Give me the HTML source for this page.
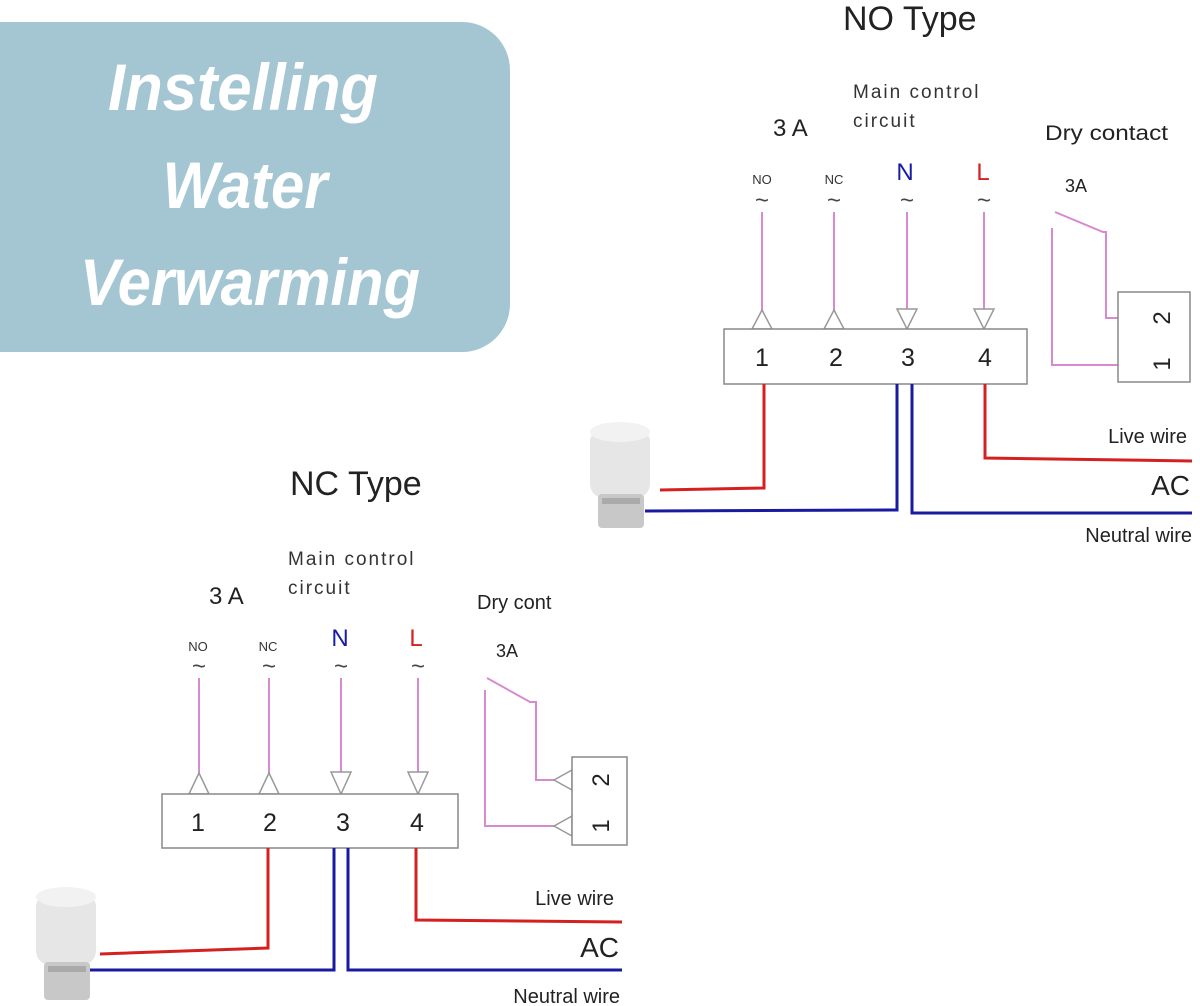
<!DOCTYPE html>
<html><head><meta charset="utf-8"><style>
html,body{margin:0;padding:0;background:#fff;}
svg{display:block}
text{font-family:"Liberation Sans",sans-serif;}
</style></head><body>
<svg width="1200" height="1006" viewBox="0 0 1200 1006" xmlns="http://www.w3.org/2000/svg">
<rect x="0" y="0" width="1200" height="1006" fill="#fff"/>
<path d="M0 22 H462 A48 48 0 0 1 510 70 V304 A48 48 0 0 1 462 352 H0 Z" fill="#a4c6d2"/>
<g fill="#fff" font-weight="bold" font-style="italic" font-size="66" text-anchor="middle">
<text x="243" y="110" textLength="270" lengthAdjust="spacingAndGlyphs">Instelling</text>
<text x="245" y="208" textLength="165" lengthAdjust="spacingAndGlyphs">Water</text>
<text x="250" y="305" textLength="340" lengthAdjust="spacingAndGlyphs">Verwarming</text>
</g>

<text x="843" y="30" font-size="34" fill="#222">NO Type</text>
<text x="853" y="98" font-size="19" fill="#333" letter-spacing="2">Main control</text>
<text x="853" y="127" font-size="19" fill="#333" letter-spacing="2">circuit</text>
<text x="773" y="136" font-size="24" fill="#222">3 A</text>
<text x="1045" y="140" font-size="21" fill="#222" textLength="123" lengthAdjust="spacingAndGlyphs">Dry contact</text>
<text x="1065" y="192" font-size="18" fill="#222">3A</text>
<g font-size="13" fill="#333" text-anchor="middle"><text x="762" y="184">NO</text><text x="834" y="184">NC</text></g>
<text x="905" y="180" font-size="24" fill="#1a1aa8" text-anchor="middle">N</text>
<text x="983" y="180" font-size="24" fill="#d42020" text-anchor="middle">L</text>
<g font-size="24" fill="#444" text-anchor="middle"><text x="762" y="208">~</text><text x="834" y="208">~</text><text x="907" y="208">~</text><text x="984" y="208">~</text></g>
<g stroke="#d88ad0" stroke-width="2" fill="none">
<line x1="762" y1="212" x2="762" y2="312"/><line x1="834" y1="212" x2="834" y2="312"/>
<line x1="907" y1="212" x2="907" y2="309"/><line x1="984" y1="212" x2="984" y2="309"/>
<polyline points="1052,228 1052,365 1120,365"/>
<polyline points="1055,212 1103,232 1106,232 1106,318 1120,318"/>
</g>
<g stroke="#999" stroke-width="1.5" fill="#fff">
<polygon points="762,310 752,329 772,329"/><polygon points="834,310 824,329 844,329"/>
<polygon points="897,309 917,309 907,329"/><polygon points="974,309 994,309 984,329"/>
<polygon points="1120,318 1137,308 1137,328"/><polygon points="1120,365 1137,355 1137,375"/>
</g>
<rect x="724" y="329" width="303" height="55" fill="#fff" stroke="#888" stroke-width="1.5"/>
<g font-size="25" fill="#222" text-anchor="middle"><text x="762" y="366">1</text><text x="836" y="366">2</text><text x="908" y="366">3</text><text x="985" y="366">4</text></g>
<rect x="1118" y="292" width="72" height="90" fill="#fff" stroke="#888" stroke-width="1.5"/>
<text transform="translate(1170,318) rotate(-90)" font-size="24" fill="#222" text-anchor="middle">2</text>
<text transform="translate(1170,364) rotate(-90)" font-size="24" fill="#222" text-anchor="middle">1</text>
<g fill="none" stroke-width="3">
<polyline points="764,384 764,488 660,490" stroke="#d42020"/>
<polyline points="897,384 897,510 645,511" stroke="#1a1aa0"/>
<polyline points="912,384 912,513 1192,513" stroke="#1a1aa0"/>
<polyline points="985,384 985,458 1192,461" stroke="#d42020"/>
</g>
<g fill="#222" text-anchor="end"><text x="1187" y="443" font-size="20">Live wire</text><text x="1190" y="495" font-size="28">AC</text><text x="1192" y="542" font-size="20">Neutral wire</text></g>
<g>
<rect x="590" y="428" width="60" height="70" rx="14" fill="#e6e6e6"/>
<ellipse cx="620" cy="432" rx="30" ry="10" fill="#f2f2f2"/>
<rect x="598" y="494" width="46" height="34" rx="4" fill="#c8c8c8"/>
<rect x="602" y="498" width="38" height="6" fill="#aaa"/>
</g>

<text x="290" y="495" font-size="34" fill="#222">NC Type</text>
<text x="288" y="565" font-size="19" fill="#333" letter-spacing="2">Main control</text>
<text x="288" y="594" font-size="19" fill="#333" letter-spacing="2">circuit</text>
<text x="209" y="604" font-size="24" fill="#222">3 A</text>
<text x="477" y="609" font-size="20" fill="#222">Dry cont</text>
<text x="496" y="657" font-size="18" fill="#222">3A</text>
<g font-size="13" fill="#333" text-anchor="middle"><text x="198" y="651">NO</text><text x="268" y="651">NC</text></g>
<text x="340" y="646" font-size="24" fill="#1a1aa8" text-anchor="middle">N</text>
<text x="416" y="646" font-size="24" fill="#d42020" text-anchor="middle">L</text>
<g font-size="24" fill="#444" text-anchor="middle"><text x="199" y="674">~</text><text x="269" y="674">~</text><text x="341" y="674">~</text><text x="418" y="674">~</text></g>
<g stroke="#d88ad0" stroke-width="2" fill="none">
<line x1="199" y1="678" x2="199" y2="774"/><line x1="269" y1="678" x2="269" y2="774"/>
<line x1="341" y1="678" x2="341" y2="772"/><line x1="418" y1="678" x2="418" y2="772"/>
<polyline points="485,690 485,826 556,826"/>
<polyline points="487,678 530,702 536,702 536,780 556,780"/>
</g>
<g stroke="#999" stroke-width="1.5" fill="#fff">
<polygon points="199,773 189,794 209,794"/><polygon points="269,773 259,794 279,794"/>
<polygon points="331,772 351,772 341,794"/><polygon points="408,772 428,772 418,794"/>
<polygon points="554,780 572,770 572,790"/><polygon points="554,826 572,816 572,836"/>
</g>
<rect x="162" y="794" width="296" height="54" fill="#fff" stroke="#888" stroke-width="1.5"/>
<g font-size="25" fill="#222" text-anchor="middle"><text x="198" y="831">1</text><text x="270" y="831">2</text><text x="343" y="831">3</text><text x="417" y="831">4</text></g>
<rect x="572" y="757" width="55" height="88" fill="#fff" stroke="#888" stroke-width="1.5"/>
<text transform="translate(609,780) rotate(-90)" font-size="24" fill="#222" text-anchor="middle">2</text>
<text transform="translate(609,826) rotate(-90)" font-size="24" fill="#222" text-anchor="middle">1</text>
<g fill="none" stroke-width="3">
<polyline points="268,848 268,948 100,954" stroke="#d42020"/>
<polyline points="334,848 334,970 88,970" stroke="#1a1aa0"/>
<polyline points="348,848 348,970 622,970" stroke="#1a1aa0"/>
<polyline points="416,848 416,920 622,922" stroke="#d42020"/>
</g>
<g fill="#222" text-anchor="end"><text x="614" y="905" font-size="20">Live wire</text><text x="619" y="957" font-size="28">AC</text><text x="620" y="1003" font-size="20">Neutral wire</text></g>
<g>
<rect x="36" y="893" width="60" height="72" rx="14" fill="#e6e6e6"/>
<ellipse cx="66" cy="897" rx="30" ry="10" fill="#f2f2f2"/>
<rect x="44" y="962" width="46" height="38" rx="4" fill="#c8c8c8"/>
<rect x="48" y="966" width="38" height="6" fill="#aaa"/>
</g>
</svg>
</body></html>
